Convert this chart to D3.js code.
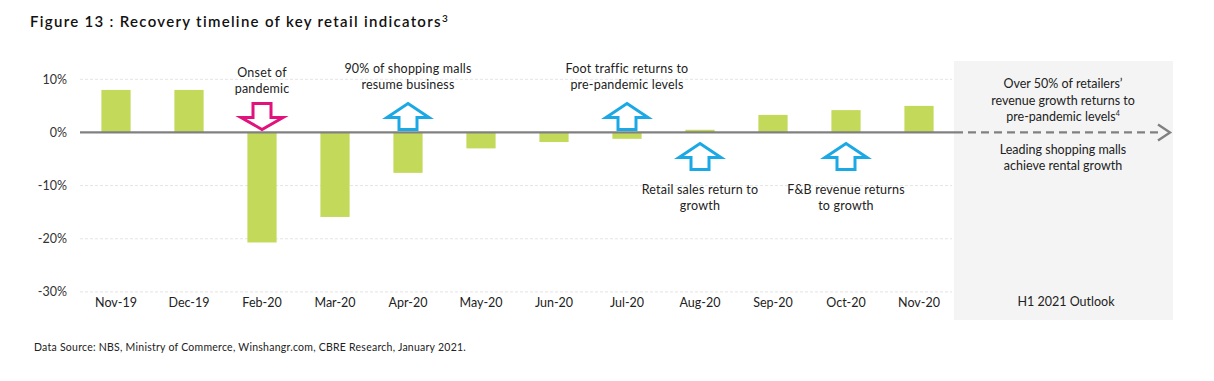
<!DOCTYPE html>
<html><head><meta charset="utf-8">
<script src="https://cdn.jsdelivr.net/npm/d3@7"></script>
<style>
body{margin:0;background:#fff;}
svg text{font-family:Lato,"Open Sans",sans-serif;fill:#222;}
</style></head>
<body>
<svg id="chart" width="1214" height="381"></svg>
<script>
const categories = ["Nov-19","Dec-19","Feb-20","Mar-20","Apr-20","May-20","Jun-20","Jul-20","Aug-20","Sep-20","Oct-20","Nov-20"];
const values = [8.0, 8.0, -20.7, -15.9, -7.6, -3.0, -1.8, -1.2, 0.5, 3.3, 4.2, 5.0];
const yTicks = [10, 0, -10, -20, -30];
const annotationCats = ["Feb-20","Apr-20","Jul-20","Aug-20","Oct-20"];
const annotationDirs = ["down","up","up","up-below","up-below"];
const annotationTexts = [["Onset of","pandemic"],["90% of shopping malls","resume business"],["Foot traffic returns to","pre-pandemic levels"],["Retail sales return to","growth"],["F&B revenue returns","to growth"]];
const outlookTop = ["Over 50% of retailers’","revenue growth returns to","pre-pandemic levels"];
const outlookBottom = ["Leading shopping malls","achieve rental growth"];
const outlookLabel = "H1 2021 Outlook";
const title = "Figure 13 : Recovery timeline of key retail indicators";
const source = "Data Source: NBS, Ministry of Commerce, Winshangr.com, CBRE Research, January 2021.";

const svg = d3.select("#chart");
const x = d3.scaleBand().domain(categories).range([79.5, 955.5]).paddingInner(0.6).paddingOuter(0.3);
const y = d3.scaleLinear().domain([-30, 10]).range([291.9, 79.3]);

// outlook panel
svg.append("rect").attr("x",954).attr("y",61).attr("width",219).attr("height",259).attr("fill","#f4f4f4");

// title
const t = svg.append("text").attr("x",30).attr("y",27).style("font-size","15px").style("font-weight","600").style("letter-spacing","1.3px").style("fill","#111");
t.append("tspan").text(title);
t.append("tspan").attr("dy",-5).style("font-size","10px").style("letter-spacing","0").text("3");

// grid
svg.append("g").selectAll("line").data(yTicks.filter(d=>d!==0)).join("line")
  .attr("x1",80).attr("x2",952).attr("y1",d=>y(d)).attr("y2",d=>y(d))
  .attr("stroke","#e4e4e4").attr("stroke-width",1).attr("stroke-dasharray","3,2");

// y axis labels
const yAxis = d3.axisLeft(y).tickValues(yTicks).tickFormat(d=>d+"%").tickSize(0).tickPadding(0);
const gy = svg.append("g").attr("transform","translate(67,0)").call(yAxis);
gy.select(".domain").remove();
gy.selectAll("text").style("font-size","12.5px").style("fill","#333").attr("font-family",null);

// bars
svg.append("g").selectAll("rect").data(values).join("rect")
  .attr("x",(d,i)=>x(categories[i])).attr("width",x.bandwidth())
  .attr("y",d=>y(Math.max(0,d))).attr("height",d=>Math.abs(y(d)-y(0)))
  .attr("fill","#c2d95a");

// zero line
svg.append("line").attr("x1",80).attr("x2",955).attr("y1",y(0)).attr("y2",y(0)).attr("stroke","#808080").attr("stroke-width",2.2);
svg.append("line").attr("x1",955).attr("x2",1163).attr("y1",y(0)).attr("y2",y(0)).attr("stroke","#808080").attr("stroke-width",2.2).attr("stroke-dasharray","8,5");
svg.append("path").attr("d",`M1158,${y(0)-8} L1170,${y(0)} L1158,${y(0)+8}`).attr("fill","none").attr("stroke","#808080").attr("stroke-width",2.4);

// x axis labels
const xAxis = d3.axisBottom(x).tickSize(0).tickPadding(0);
const gx = svg.append("g").attr("transform","translate(0,298)").call(xAxis);
gx.select(".domain").remove();
gx.selectAll("text").style("font-size","12.5px").style("fill","#222").attr("font-family",null);

// arrows
function arrowPath(cx, top, dir){
  const hw=21, sw=9, h=26, sh=14;
  if(dir==="down"){
    return `M${cx-sw},${top} L${cx+sw},${top} L${cx+sw},${top+sh} L${cx+hw},${top+sh} L${cx},${top+h} L${cx-hw},${top+sh} L${cx-sw},${top+sh} Z`;
  }
  return `M${cx},${top} L${cx+hw},${top+sh} L${cx+sw},${top+sh} L${cx+sw},${top+h} L${cx-sw},${top+h} L${cx-sw},${top+sh} L${cx-hw},${top+sh} Z`;
}
annotationCats.forEach((c,i)=>{
  const cx = x(c)+x.bandwidth()/2;
  const dir = annotationDirs[i];
  const below = dir==="up-below";
  const top = below ? y(0)+11 : y(0)-29;
  svg.append("path").attr("d",arrowPath(cx, top, dir==="down"?"down":"up"))
    .attr("fill","none").attr("stroke", dir==="down" ? "#e2127c" : "#1aa9e4").attr("stroke-width",3).attr("stroke-linejoin","miter");
  const lines = annotationTexts[i];
  const ty0 = below ? 194 : (dir==="down" ? 77 : 73);
  const tx = svg.append("text").attr("text-anchor","middle").style("font-size","12.5px").style("letter-spacing","0.2px");
  lines.forEach((l,j)=>tx.append("tspan").attr("x",cx).attr("y",ty0+j*15.5).text(l));
});

// outlook texts
const ocx = 1063;
const ot = svg.append("text").attr("text-anchor","middle").style("font-size","12.5px");
outlookTop.forEach((l,j)=>{
  ot.append("tspan").attr("x",ocx).attr("y",88+j*16.5).text(l);
});
ot.append("tspan").attr("dy",-5).style("font-size","7px").text("4");
const ob = svg.append("text").attr("text-anchor","middle").style("font-size","12.5px");
outlookBottom.forEach((l,j)=>ob.append("tspan").attr("x",ocx).attr("y",154+j*16).text(l));
svg.append("text").attr("x",ocx+3).attr("y",306).attr("text-anchor","middle").style("font-size","12.5px").text(outlookLabel);

// source
svg.append("text").attr("x",34).attr("y",351).style("font-size","10.5px").style("letter-spacing","0.25px").text(source);
</script>
</body></html>
